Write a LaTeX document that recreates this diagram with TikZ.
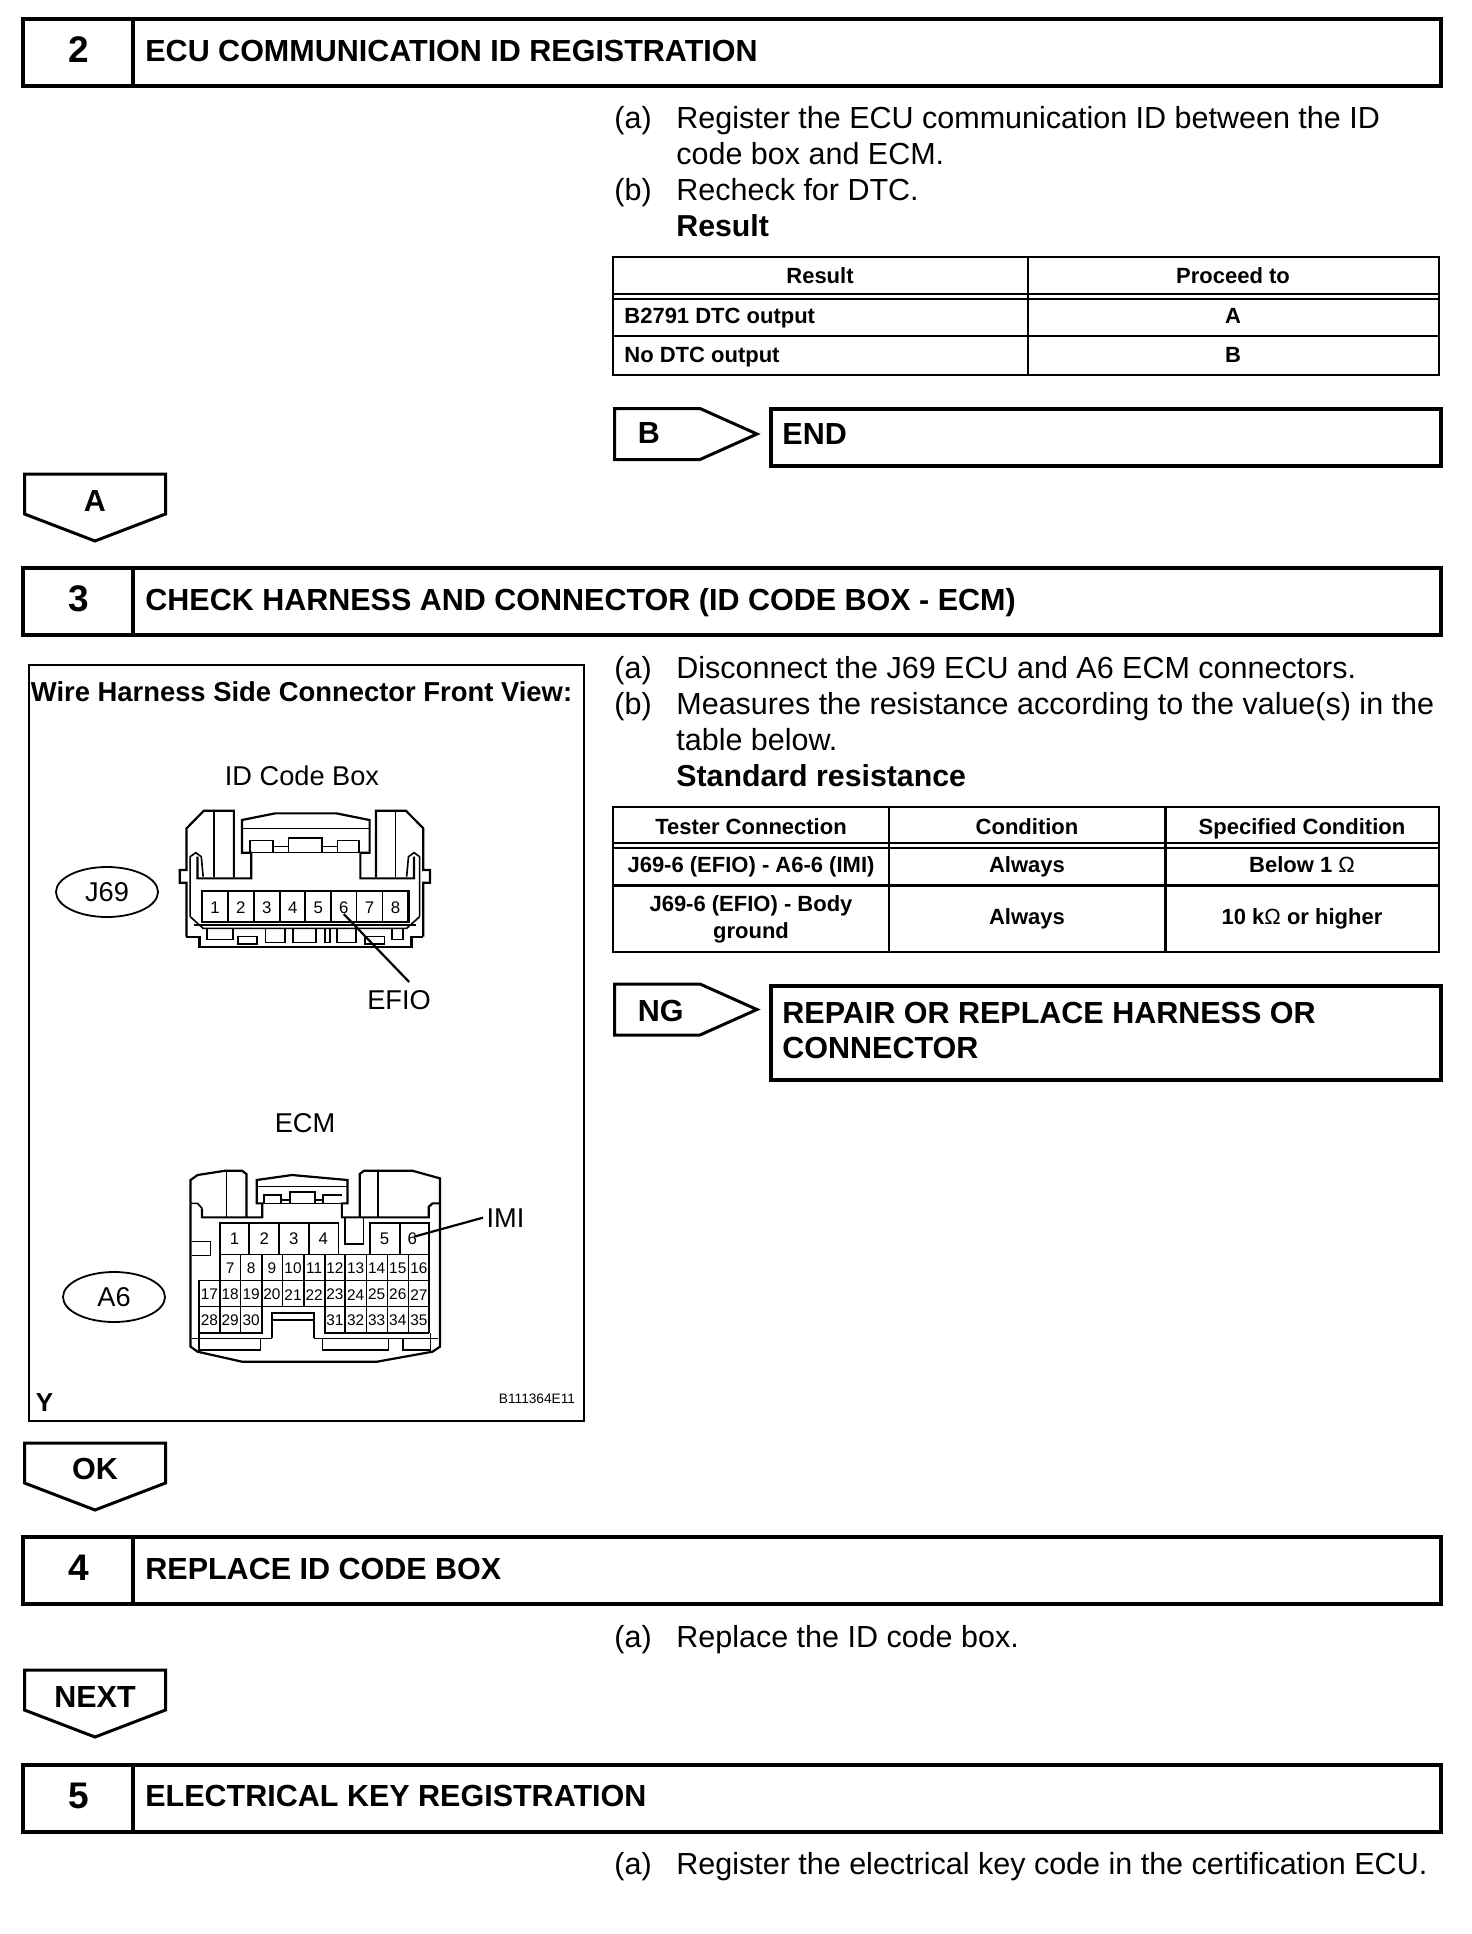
\documentclass[tikz,border=0pt]{standalone}
\usepackage{fontspec}
\usetikzlibrary{shapes.geometric}
\setmainfont{Liberation Sans}
\begin{document}
\begin{tikzpicture}[
        x=0.5pt, y=-0.5pt,
        head line/.style={draw, line width=2pt, inner sep=0pt, minimum height=33.5pt},
        head num/.style={font=\fontsize{18.5}{20}\selectfont\bfseries, inner sep=0pt},
        head text/.style={font=\fontsize{15.25}{17.5}\selectfont\bfseries, inner sep=0pt, anchor=base west, align=left},
        body text/.style={font=\fontsize{15.25}{18}\selectfont, inner sep=0pt, anchor=base west},
        body bold/.style={font=\fontsize{15.15}{18}\selectfont\bfseries, inner sep=0pt, anchor=base west},
        cell text/.style={font=\fontsize{11}{13}\selectfont\bfseries, inner sep=0pt, anchor=base},
        draw text/.style={font=\fontsize{13.6}{16}\selectfont, inner sep=0pt, anchor=base},
        tag line/.style={draw, line width=1.5pt, line join=miter},
        table line/.style={draw, line width=1.1pt},
        part line/.style={draw, line width=0.8pt},
        part thick/.style={draw, line width=1.1pt},
        pin text/.style={font=\fontsize{8.4}{9}\selectfont, inner sep=0pt},
        pin small/.style={font=\fontsize{7.7}{9}\selectfont, inner sep=0pt},
        oval/.style={draw, ellipse, line width=0.9pt, minimum width=51pt, minimum height=25pt, inner sep=0pt, font=\fontsize{13.6}{16}\selectfont},
    ]
    \useasboundingbox (0,0) rectangle (1472,1934);

    % step headers
    \foreach \ytop/\num/\title in {19/2/ECU COMMUNICATION ID REGISTRATION,
            568/3/CHECK HARNESS AND CONNECTOR (ID CODE BOX - ECM),
            1537/4/REPLACE ID CODE BOX,
            1764.5/5/ELECTRICAL KEY REGISTRATION} {
        \node[head line, minimum width=55pt] (box\num) at (78,\ytop+33.5) {};
        \node[head line, minimum width=654pt] (bar\num) at (787,\ytop+33.5) {};
        \node[head num] (num\num) at (79,\ytop+31) {\num};
        \node[head text] (title\num) at (145,\ytop+42) {\title};
    }

    % tags going down
    \foreach \name/\ytop/\ybase/\txt in {a/474/511/A, ok/1443/1479/OK, next/1670/1707/NEXT} {
        \draw[tag line] (24.5,\ytop) -- (165.5,\ytop) -- (165.5,\ytop+40) -- (95,\ytop+67) -- (24.5,\ytop+40) -- cycle;
        \node[head text, anchor=base] (tag\name) at (95,\ybase) {\txt};
    }

    % tags going right
    \foreach \name/\ytop/\ybase/\txt in {b/408.5/443/B, ng/984/1021/NG} {
        \draw[tag line] (614.5,\ytop) -- (700,\ytop) -- (757,\ytop+25.5) -- (700,\ytop+51) -- (614.5,\ytop+51) -- cycle;
        \node[head text] (tag\name) at (637.5,\ybase) {\txt};
    }
    \node[head line, minimum width=335.25pt, minimum height=28.5pt] (endbox) at (1105.75,437) {};
    \node[head text] (endtext) at (782,444) {END};
    \node[head line, minimum width=335.25pt, minimum height=47pt] (ngbox) at (1105.75,1032.5) {};
    \node[head text] (ngtext) at (782,1058) {REPAIR OR REPLACE HARNESS OR\\CONNECTOR};

    % text right of the drawings
    \node[body text] (l1) at (614,128.5) {(a)};
    \node[body text] (t1) at (676,128.5) {Register the ECU communication ID between the ID};
    \node[body text] (t2) at (676,164.5) {code box and ECM.};
    \node[body text] (l2) at (614,200.5) {(b)};
    \node[body text] (t3) at (676,200.5) {Recheck for DTC.};
    \node[body bold] (t4) at (676,236.5) {Result};

    \node[body text] (l3) at (614,678) {(a)};
    \node[body text] (t5) at (676,678) {Disconnect the J69 ECU and A6 ECM connectors.};
    \node[body text] (l4) at (614,714) {(b)};
    \node[body text] (t6) at (676,714) {Measures the resistance according to the value(s) in the};
    \node[body text] (t7) at (676,750) {table below.};
    \node[body bold] (t8) at (676,786) {Standard resistance};

    \node[body text] (l5) at (614,1647) {(a)};
    \node[body text] (t9) at (676,1647) {Replace the ID code box.};
    \node[body text] (l6) at (614,1874) {(a)};
    \node[body text] (t10) at (676,1874) {Register the electrical key code in the certification ECU.};

    % result table
    \draw[table line] (613,257) rectangle (1439,375);
    \draw[table line] (1028,257) -- (1028,375);
    \draw[table line] (613,294) -- (1439,294) (613,299) -- (1439,299) (613,336) -- (1439,336);
    \node[cell text] (c1) at (820,283) {Result};
    \node[cell text] (c2) at (1233,283) {Proceed to};
    \node[cell text, anchor=base west] (c3) at (624,323) {B2791 DTC output};
    \node[cell text] (c4) at (1233,323) {A};
    \node[cell text, anchor=base west] (c5) at (624,362) {No DTC output};
    \node[cell text] (c6) at (1233,362) {B};

    % resistance table
    \draw[table line] (613,807) rectangle (1439,952);
    \draw[table line] (889,807) -- (889,952) (1165.5,807) -- (1165.5,952);
    \draw[table line] (613,843) -- (1439,843) (613,848) -- (1439,848);
    \draw[draw, line width=1.5pt] (613,885) -- (1439,885);
    \node[cell text] (r1) at (751,834) {Tester Connection};
    \node[cell text] (r2) at (1027,834) {Condition};
    \node[cell text] (r3) at (1302,834) {Specified Condition};
    \node[cell text] (r4) at (751,872) {J69-6 (EFIO) - A6-6 (IMI)};
    \node[cell text] (r5) at (1027,872) {Always};
    \node[cell text] (r6) at (1302,872) {Below 1 {\mdseries Ω}};
    \node[cell text] (r7) at (751,911) {J69-6 (EFIO) - Body};
    \node[cell text] (r8) at (751,938) {ground};
    \node[cell text] (r9) at (1027,924) {Always};
    \node[cell text] (r10) at (1302,924) {10 k{\mdseries Ω} or higher};

    % drawing panel
    \draw[table line] (29,665) rectangle (584,1421);
    \node[body bold, font=\fontsize{13.7}{16}\selectfont\bfseries, anchor=base] (paneltitle) at (301.5,701) {Wire Harness Side Connector Front View:};
    \node[draw text] (idbox) at (302,785) {ID Code Box};
    \node[draw text] (ecm) at (305,1132) {ECM};
    \node[oval] (j69) at (107,892) {J69};
    \node[oval] (a6) at (114,1297) {A6};
    \node[draw text, font=\fontsize{13}{16}\selectfont\bfseries] (yletter) at (44.5,1411) {Y};
    \node[draw text, font=\fontsize{6.85}{8}\selectfont] (partno) at (537,1403) {B111364E11};

    % connector J69, coordinates of the crop
    \begin{scope}[shift={(20,660)}, x=0.185pt, y=-0.16667pt]
        \draw[part thick] (450,830) -- (450,668) -- (432,668) -- (432,630) -- (450,630) -- (450,505) -- (497,452) -- (578,452) -- (578,652);
        \draw[part thick] (1090,830) -- (1090,668) -- (1108,668) -- (1108,630) -- (1090,630) -- (1090,505) -- (1043,452) -- (962,452) -- (962,652);
        \draw[part line] (525,452) -- (525,652) (1015,452) -- (1015,652);
        \draw[part thick] (480,590) -- (480,655) -- (625,655) -- (625,578) -- (600,578) -- (600,480) -- (690,460) -- (855,460) -- (945,480) -- (945,578) -- (920,578) -- (920,655) -- (1065,655) -- (1065,590);
        \draw[part line] (600,505) -- (945,505);
        \draw[part line] (622,578) -- (622,542) -- (683,542) -- (683,578);
        \draw[part line] (726,578) -- (726,534) -- (816,534) -- (816,578);
        \draw[part line] (858,578) -- (858,542) -- (916,542) -- (916,578);
        \draw[part line] (683,560) -- (726,560) (816,560) -- (858,560);
        \draw[part line] (625,578) -- (920,578);
        \draw[part line] (460,770) -- (460,590) -- (475,578) -- (490,590) -- (495,650);
        \draw[part line] (1080,770) -- (1080,590) -- (1065,578) -- (1050,590) -- (1045,650);
        \draw[part thick] (450,830) -- (485,830) -- (485,862) -- (1058,862) -- (1058,830) -- (1090,830);
        \draw[part thick] (492,692) rectangle (1050,787);
        \foreach \xa in {562,632,702,771,840,910,980}
            \draw[part line] (\xa,692) -- (\xa,787);
        \foreach \pin/\xa in {1/527,2/597,3/667,4/737,5/806,6/875,7/945,8/1015}
            \node[pin text] (jp\pin) at (\xa,742) {\pin};
        \draw[part line] (460,770) -- (495,805) -- (1045,805) -- (1080,770);
        \draw[part line] (470,795) -- (1070,795);
        \draw[part line] (505,808) -- (505,838) -- (575,838) -- (575,808);
        \draw[part line] (590,830) rectangle (640,852);
        \draw[part line] (664,808) -- (664,848) -- (716,848) -- (716,808);
        \draw[part line] (738,808) -- (738,848) -- (800,848) -- (800,808);
        \draw[part line] (825,808) -- (825,848) -- (838,848) -- (838,808);
        \draw[part line] (856,808) -- (856,848) -- (908,848) -- (908,808);
        \draw[part line] (933,830) rectangle (985,852);
        \draw[part line] (1005,808) -- (1005,838) -- (1035,838) -- (1035,808);
        \coordinate (pinefio) at (875,762);
    \end{scope}
    \node[draw text, outer sep=4pt] (efio) at (399,1009) {EFIO};
    \draw[part thick] (efio.60) -- (pinefio);

    % connector A6, coordinates of the crop
    \begin{scope}[shift={(20,1100)}, x=0.185pt, y=-0.16667pt]
        \draw[part thick] (461,310) -- (461,240) -- (480,225) -- (555,212) -- (600,212) -- (612,222) -- (612,352);
        \draw[part thick] (461,310) -- (461,740) -- (480,755) -- (600,785) -- (965,785) -- (1115,755) -- (1135,740) -- (1135,235) -- (1060,212) -- (930,212) -- (918,222) -- (918,352);
        \draw[part line] (558,212) -- (558,352) (968,212) -- (968,352);
        \draw[part line] (461,310) -- (480,310) -- (492,325);
        \draw[part thick] (492,325) -- (492,352) -- (655,352) -- (655,310) -- (640,310) -- (640,240) -- (735,225) -- (885,240) -- (885,310) -- (870,310) -- (870,352) -- (1105,352) -- (1105,320) -- (1115,310) -- (1135,310);
        \draw[part line] (640,260) -- (885,260);
        \draw[part thick] (660,310) -- (660,285) -- (705,285) -- (705,310);
        \draw[part thick] (730,310) -- (730,275) -- (798,275) -- (798,310);
        \draw[part thick] (820,310) -- (820,285) -- (870,285);
        \draw[part line] (705,300) -- (730,300) (798,300) -- (820,300) (655,310) -- (870,310);
        \draw[part line] (878,355) -- (878,432) -- (928,432) -- (928,355);
        \draw[part line] (465,425) -- (515,425) -- (515,467) -- (465,467);
        % cells of the four rows
        \draw[part thick] (541,463) -- (541,368) -- (861,368) (946,463) -- (946,368) -- (1106,368) -- (1106,698);
        \draw[part line] (861,368) -- (861,463);
        \foreach \xa in {620,700,781,1026}
            \draw[part thick] (\xa,368) -- (\xa,463);
        \draw[part line] (541,463) -- (1106,463);
        \draw[part line] (483,541) -- (1106,541) (483,620) -- (1106,620);
        \draw[part thick] (483,541) -- (483,698) -- (654,698) -- (654,620);
        \draw[part thick] (824,620) -- (824,698) -- (1106,698);
        \foreach \xa in {541,596}
            \draw[part line] (\xa,463) -- (\xa,698);
        \foreach \xa in {654,710,767}
            \draw[part line] (\xa,463) -- (\xa,620);
        \foreach \xa in {879,936,993,1050}
            \draw[part line] (\xa,463) -- (\xa,698);
        \draw[part line] (824,463) -- (824,620);
        \foreach \pin/\xa in {1/580,2/660,3/740,4/820,5/985,6/1060}
            \node[pin text] (ap\pin) at (\xa,416) {\pin};
        \foreach \pin/\xa in {7/568,8/625,9/681,10/738,11/795,12/851,13/907,14/964,15/1021,16/1078}
            \node[pin small] (ap\pin) at (\xa,505) {\pin};
        \foreach \pin/\xa in {17/512,18/568,19/625,20/681,21/738,22/795,23/851,24/907,25/964,26/1021,27/1078}
            \node[pin small] (ap\pin) at (\xa,584) {\pin};
        \foreach \pin/\xa in {28/512,29/568,30/625,31/851,32/907,33/964,34/1021,35/1078}
            \node[pin small] (ap\pin) at (\xa,662) {\pin};
        \draw[part thick] (681,715) -- (681,638) -- (795,638) -- (795,715);
        \draw[part line] (681,660) -- (795,660);
        \draw[part line] (465,715) -- (681,715) (795,715) -- (1130,715);
        \draw[part line] (483,698) -- (483,750) -- (650,750) -- (650,715);
        \draw[part line] (818,715) -- (818,750) -- (996,750) -- (996,715);
        \draw[part line] (1035,715) -- (1035,750) -- (1110,750) -- (1110,698);
        \coordinate (pinimi) at (1065,410);
    \end{scope}
    \node[draw text, anchor=base west, outer sep=1.8pt] (imi) at (483,1227) {IMI};
    \draw[part thick] (imi.west) -- (pinimi);
\end{tikzpicture}
\end{document}
